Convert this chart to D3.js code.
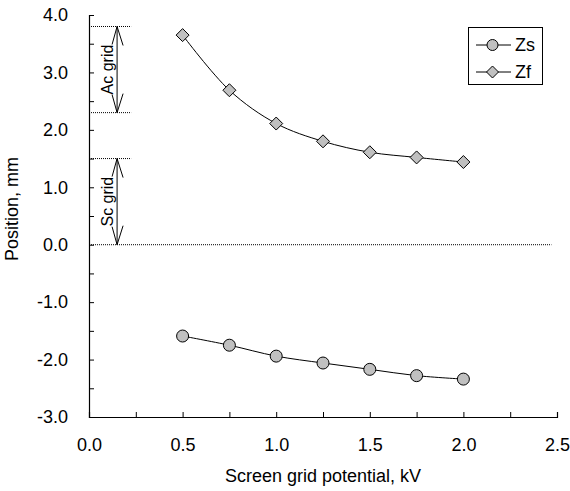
<!DOCTYPE html>
<html>
<head>
<meta charset="utf-8">
<script src="https://cdn.jsdelivr.net/npm/d3@7"></script>
<style>
  html, body { margin: 0; padding: 0; background: #fff; }
  svg { display: block; font-family: "Liberation Sans", Arial, sans-serif; }
</style>
</head>
<body>
<svg id="chart" width="570" height="491"></svg>
<script>
// ---- data ----
const voltages = [0.5, 0.75, 1.0, 1.25, 1.5, 1.75, 2.0];
const zs = [-1.59, -1.75, -1.94, -2.06, -2.17, -2.28, -2.34];
const zf = [3.65, 2.69, 2.11, 1.80, 1.61, 1.52, 1.44];
const seriesNames = ["Zs", "Zf"];
const xTicks = [0.0, 0.5, 1.0, 1.5, 2.0, 2.5];
const xMinorTicks = [0.25, 0.75, 1.25, 1.75, 2.25];
const yTicks = [-3, -2, -1, 0, 1, 2, 3, 4];
const yMinorTicks = [-2.5, -1.5, -0.5, 0.5, 1.5, 2.5, 3.5];
const acGrid = [2.3, 3.8];
const scGrid = [0.0, 1.5];
const gridLabels = ["Ac grid", "Sc grid"];
const arrowX = 0.15;
const guideEnd = 0.225;
const zeroLineEnd = 2.47;
const xTitle = "Screen grid potential, kV";
const yTitle = "Position, mm";

// ---- layout ----
const FS = 18;
const svg = d3.select("#chart");
const x = d3.scaleLinear().domain([0, 2.5]).range([89, 557]);
const y = d3.scaleLinear().domain([-3, 4]).range([417, 15]);
const fmt = d3.format(".1f");
const fmtTick = v => fmt(v).replace("\u2212", "-");

// axes
svg.append("g").attr("transform", `translate(0,${y(-3)})`)
  .call(d3.axisBottom(x).tickValues(xTicks).tickFormat(fmtTick).tickSize(-5).tickPadding(21));
const xMinor = svg.append("g").attr("transform", `translate(0,${y(-3)})`)
  .call(d3.axisBottom(x).tickValues(xMinorTicks).tickFormat("").tickSize(-5));
xMinor.select(".domain").remove();
svg.append("g").attr("transform", `translate(${x(0)},0)`)
  .call(d3.axisLeft(y).tickValues(yTicks).tickFormat(fmtTick).tickSize(-5).tickPadding(21));
const yMinor = svg.append("g").attr("transform", `translate(${x(0)},0)`)
  .call(d3.axisLeft(y).tickValues(yMinorTicks).tickFormat("").tickSize(-5));
yMinor.select(".domain").remove();
svg.selectAll(".tick text").attr("font-size", FS).attr("fill", "#000")
  .attr("font-family", "Liberation Sans, Arial, sans-serif");
svg.selectAll(".domain").attr("stroke", "#000").attr("stroke-width", 1.2);
svg.selectAll(".tick line").attr("stroke", "#000");

// axis titles
svg.append("text").attr("x", (x(0) + x(2.5)) / 2).attr("y", 482)
  .attr("text-anchor", "middle").attr("font-size", FS).text(xTitle);
svg.append("text").attr("transform", `translate(18,209) rotate(-90)`)
  .attr("text-anchor", "middle").attr("font-size", FS).text(yTitle);

// dotted guide lines
const guides = [acGrid[1], acGrid[0], scGrid[1]];
svg.selectAll(".guide").data(guides).enter().append("line")
  .attr("x1", x(0)).attr("x2", x(guideEnd))
  .attr("y1", d => y(d)).attr("y2", d => y(d))
  .attr("stroke", "#000").attr("stroke-width", 1).attr("stroke-dasharray", "1,1");
svg.append("line").attr("x1", x(0)).attr("x2", x(zeroLineEnd))
  .attr("y1", y(0)).attr("y2", y(0))
  .attr("stroke", "#000").attr("stroke-width", 1).attr("stroke-dasharray", "1,1");

// double arrows
function doubleArrow(range, label) {
  const ax = x(arrowX), yt = y(range[1]), yb = y(range[0]);
  const g = svg.append("g").attr("stroke", "#000").attr("fill", "none").attr("stroke-width", 1);
  g.append("line").attr("x1", ax).attr("x2", ax).attr("y1", yt).attr("y2", yb);
  g.append("path").attr("d", `M${ax - 5},${yt + 18}L${ax},${yt}L${ax + 6},${yt + 19}`);
  g.append("path").attr("d", `M${ax - 5},${yb - 18}L${ax},${yb}L${ax + 6},${yb - 19}`);
  svg.append("text").attr("transform", `translate(${ax - 4},${(yt + yb) / 2}) rotate(-90)`)
    .attr("text-anchor", "middle").attr("font-size", 16).text(label);
}
doubleArrow(acGrid, gridLabels[0]);
doubleArrow(scGrid, gridLabels[1]);

// series
const line = d3.line().x(d => x(d[0])).y(d => y(d[1])).curve(d3.curveCatmullRom.alpha(0.5));
const zsData = voltages.map((v, i) => [v, zs[i]]);
const zfData = voltages.map((v, i) => [v, zf[i]]);
[zsData, zfData].forEach(data => {
  svg.append("path").datum(data).attr("d", line)
    .attr("fill", "none").attr("stroke", "#000").attr("stroke-width", 1);
});
const diamondPath = s => `M0,${-s}L${s},0L0,${s}L${-s},0Z`;
svg.selectAll(".zs").data(zsData).enter().append("circle")
  .attr("cx", d => x(d[0])).attr("cy", d => y(d[1])).attr("r", 6)
  .attr("fill", "#c0c0c0").attr("stroke", "#000").attr("stroke-width", 1);
svg.selectAll(".zf").data(zfData).enter().append("path")
  .attr("transform", d => `translate(${x(d[0])},${y(d[1])})`)
  .attr("d", diamondPath(6.5))
  .attr("fill", "#c0c0c0").attr("stroke", "#000").attr("stroke-width", 1);

// legend
const lg = svg.append("g");
lg.append("rect").attr("x", 468.5).attr("y", 27.5).attr("width", 74).attr("height", 57)
  .attr("fill", "#fff").attr("stroke", "#000").attr("stroke-width", 1);
seriesNames.forEach((name, i) => {
  const ly = 45 + i * 27;
  lg.append("line").attr("x1", 476).attr("x2", 511).attr("y1", ly).attr("y2", ly)
    .attr("stroke", "#000").attr("stroke-width", 1);
  if (i === 0) {
    lg.append("circle").attr("cx", 492.5).attr("cy", ly).attr("r", 5.5)
      .attr("fill", "#c0c0c0").attr("stroke", "#000");
  } else {
    lg.append("path").attr("transform", `translate(492.5,${ly})`).attr("d", diamondPath(6))
      .attr("fill", "#c0c0c0").attr("stroke", "#000");
  }
  lg.append("text").attr("x", 515).attr("y", ly).attr("dy", "0.36em")
    .attr("font-size", FS).text(name);
});
</script>
</body>
</html>
